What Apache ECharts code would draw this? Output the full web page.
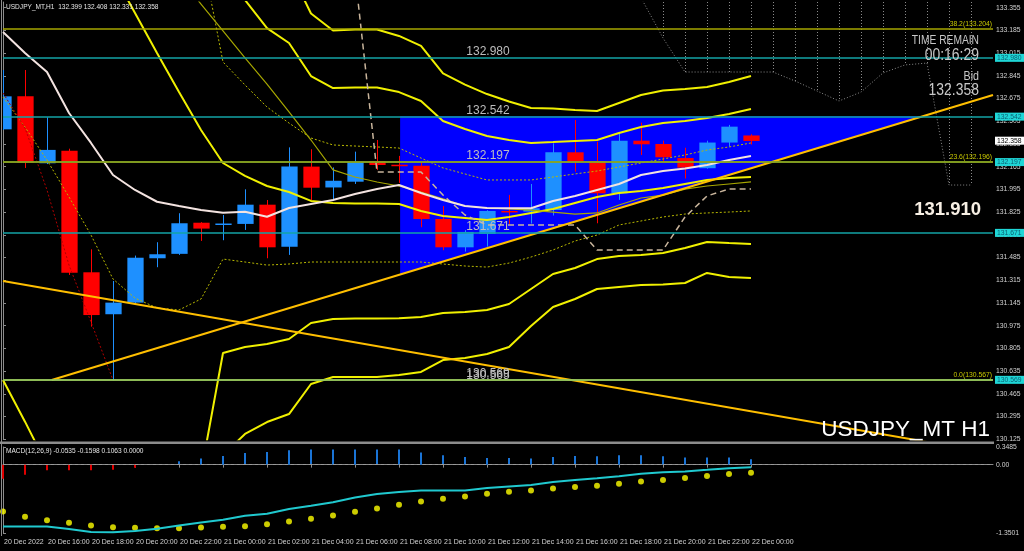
<!DOCTYPE html>
<html><head><meta charset="utf-8">
<script src="https://cdn.jsdelivr.net/npm/echarts@6/dist/echarts.min.js"></script>
<style>html,body{margin:0;padding:0;background:#000;}#c{width:1024px;height:551px;}</style>
</head><body><div id="c"></div>
<script>
// ---------- data ----------
const tickLabels = ['20 Dec 2022','20 Dec 16:00','20 Dec 18:00','20 Dec 20:00','20 Dec 22:00','21 Dec 00:00','21 Dec 02:00','21 Dec 04:00','21 Dec 06:00','21 Dec 08:00','21 Dec 10:00','21 Dec 12:00','21 Dec 14:00','21 Dec 16:00','21 Dec 18:00','21 Dec 20:00','21 Dec 22:00','22 Dec 00:00'];
const open  = [132.445,132.692,132.191,132.285,131.375,131.061,131.148,131.480,131.513,131.746,131.730,131.737,131.881,131.567,132.166,132.010,132.053,132.208,132.180,132.173,131.774,131.562,131.662,131.834,131.829,131.841,132.273,132.208,131.966,132.360,132.335,132.230,132.154,132.346,132.399];
const high  = [132.889,132.889,132.535,132.300,131.547,131.310,131.500,131.600,131.817,131.750,131.804,131.996,131.916,132.310,132.296,132.160,132.278,132.365,132.246,132.200,131.871,131.690,131.840,131.954,132.036,132.340,132.515,132.353,132.415,132.495,132.360,132.307,132.360,132.478,132.408];
const low   = [132.440,132.156,132.185,131.355,130.968,130.567,131.140,131.413,131.505,131.610,131.615,131.692,131.480,131.505,131.916,131.920,132.036,132.140,132.044,131.712,131.540,131.530,131.567,131.737,131.740,131.800,132.128,131.742,131.917,132.253,132.203,132.077,132.150,132.315,132.331];
const close = [132.692,132.195,132.291,131.372,131.055,131.148,131.484,131.510,131.742,131.702,131.740,131.881,131.562,132.166,132.008,132.060,132.200,132.178,132.170,131.774,131.562,131.677,131.834,131.825,131.854,132.273,132.203,131.966,132.360,132.333,132.236,132.158,132.346,132.465,132.358];

const maWhite = [133.174,133.016,132.874,132.567,132.343,132.103,131.991,131.903,131.871,131.841,131.821,131.828,131.791,131.856,131.886,131.916,131.961,131.998,132.028,131.968,131.916,131.871,131.856,131.854,131.854,131.909,131.946,131.991,132.036,132.103,132.133,132.152,132.178,132.215,132.245];
const maOlive = [null,null,null,null,null,null,null,null,133.585,133.383,133.181,132.979,132.784,132.575,132.365,132.141,132.088,132.051,132.021,131.976,131.924,131.871,131.856,131.849,131.841,131.826,131.811,131.819,131.879,131.931,131.953,131.998,132.021,132.036,132.051];
const bandUp3 = [null,null,null,null,null,null,null,null,null,null,null,null,null,133.649,133.312,133.185,133.192,133.192,133.144,133.069,132.863,132.780,132.709,132.653,132.605,132.601,132.590,132.582,132.642,132.702,132.736,132.747,132.762,132.799,132.844];
const bandUp2 = [null,null,null,null,null,null,null,null,null,null,133.623,133.413,133.203,133.091,132.844,132.754,132.758,132.758,132.724,132.657,132.507,132.447,132.395,132.365,132.343,132.350,132.358,132.365,132.418,132.462,132.492,132.507,132.530,132.560,132.597];
const bandUp1 = [null,null,null,null,null,null,null,null,null,133.795,132.949,132.777,132.612,132.492,132.380,132.328,132.320,132.313,132.305,132.230,132.156,132.111,132.066,132.066,132.066,132.088,132.111,132.133,132.163,132.193,132.223,132.253,132.290,132.313,132.343];
const bandMid = [null,null,null,null,null,133.615,133.316,133.016,132.724,132.440,132.193,132.096,132.021,131.976,131.909,131.894,131.890,131.890,131.886,131.834,131.796,131.781,131.766,131.789,131.819,131.849,131.894,131.939,131.968,131.983,132.006,132.036,132.066,132.081,132.088];
const bandDn1 = [132.687,132.462,132.215,131.939,131.654,131.325,131.182,131.108,131.093,131.175,131.474,131.452,131.429,131.437,131.452,131.452,131.452,131.452,131.452,131.452,131.437,131.422,131.414,131.444,131.489,131.542,131.609,131.654,131.729,131.759,131.789,131.811,131.819,131.826,131.834];
const bandDn2 = [130.569,130.257,129.932,null,null,null,null,null,null,129.873,130.771,130.816,130.838,130.876,130.995,131.025,131.029,131.029,131.031,131.040,131.070,131.078,131.093,131.138,131.250,131.362,131.407,131.474,131.497,131.504,131.519,131.557,131.602,131.594,131.587];
const bandDn3 = [null,null,null,null,null,null,null,null,null,null,130.007,130.165,130.254,130.314,130.539,130.591,130.591,130.591,130.606,130.629,130.718,130.733,130.763,130.816,130.973,131.115,131.175,131.250,131.265,131.280,131.284,131.295,131.370,131.340,131.332];
const kijun   = [null,null,null,null,null,null,null,null,null,null,null,null,null,null,null,null,133.608,132.126,132.126,132.126,131.953,131.804,131.729,131.729,131.729,131.729,131.729,131.542,131.542,131.542,131.542,131.789,131.946,131.998,131.998];
const redDots = [132.717,132.455,131.991,131.429,131.003,130.569];
const cloudBars = [29,30,31,32,33,34,35,36,37,38,39,40,41,42,43,44];
const cloudSpan = [133.430,133.129,132.874,132.874,132.874,132.874,132.874,132.807,132.732,132.657,132.724,132.867,132.927,132.941,132.028,132.028];

const trendUp   = [[2.214,130.569],[45,132.702]];
const trendDown = [[0,131.310],[45,130.019]];
const triangle  = [[18.05,132.542],[18.05,131.359],[41.9,132.542]];

const hLevels   = [132.980,132.542,132.197,131.671,130.569];
const fibLevels = [133.204,132.196,130.567];
const fibTexts  = ['38.2(133.204)','23.6(132.196)','0.0(130.567)'];
const bidPrice  = 132.358;

const macdHist   = [-0.277,-0.198,-0.113,-0.113,-0.113,-0.099,-0.059,0.000,0.066,0.119,0.172,0.231,0.251,0.284,0.297,0.297,0.297,0.297,0.297,0.238,0.185,0.152,0.132,0.132,0.119,0.152,0.172,0.165,0.185,0.185,0.165,0.139,0.139,0.139,0.1063];
const macdMain   = [-1.222,-1.222,-1.222,-1.271,-1.331,-1.335,-1.311,-1.267,-1.202,-1.143,-1.089,-1.010,-0.970,-0.875,-0.812,-0.741,-0.648,-0.582,-0.539,-0.509,-0.509,-0.509,-0.463,-0.430,-0.400,-0.345,-0.301,-0.267,-0.228,-0.182,-0.152,-0.133,-0.103,-0.069,-0.0535];
const macdSignal = [-0.925,-1.030,-1.097,-1.149,-1.202,-1.236,-1.248,-1.255,-1.255,-1.242,-1.228,-1.216,-1.176,-1.123,-1.069,-1.004,-0.931,-0.865,-0.792,-0.727,-0.673,-0.628,-0.574,-0.535,-0.509,-0.469,-0.444,-0.416,-0.376,-0.331,-0.305,-0.265,-0.226,-0.186,-0.1598];

// ---------- styling ----------
const SANS = '"Liberation Sans",Arial,sans-serif';
const BULL = '#1e90ff', BEAR = '#ff0000';
const CYAN = '#13a3a6', AXIS = '#8c8c8c', LBL = '#d2d2d2';
const YEL = '#f0f000', OLIVE = '#a6a600';
const CLEAR = 'rgba(0,0,0,0)';

const chart = echarts.init(document.getElementById('c'), null, {width:1024, height:551});
const pairs = arr => arr.map((v, i) => [i, v == null ? '-' : v]);
const tickPos = tickLabels.map((_, k) => 2 * k);

function ln(arr, color, width, type, z) {
  return {type:'line', xAxisIndex:0, yAxisIndex:0, data:pairs(arr), symbol:'none', showSymbol:false,
    connectNulls:false, clip:true, z:z || 3, silent:true, animation:false,
    lineStyle:{color:color, width:width, type:type || 'solid'}};
}

const candleData = close.map((c, i) => [i, open[i], c, low[i], high[i]]);

const hLineMarks = [];
hLevels.forEach(L => {
  hLineMarks.push({yAxis:L, lineStyle:{color:CYAN, width:1.5, type:'solid'},
    label:{show:true, position:'end', formatter:L.toFixed(3), backgroundColor:'#1fd6d6', color:'#0a5f72',
      fontSize:6.8, fontFamily:SANS, padding:[1,3,0,2], distance:2}});
  hLineMarks.push({yAxis:L, lineStyle:{color:CLEAR, width:0},
    label:{show:true, position:'insideMiddleTop', formatter:L.toFixed(3), color:'#bdbdbd',
      fontSize:12, fontFamily:SANS, distance:0, offset:[-10,0]}});
});
hLineMarks.push({yAxis:130.565, lineStyle:{color:CLEAR, width:0},
  label:{show:true, position:'insideMiddleTop', formatter:'130.565', color:'#bdbdbd',
    fontSize:12, fontFamily:SANS, distance:0, offset:[-10,1]}});
fibLevels.forEach((L, k) => {
  hLineMarks.push({yAxis:L, lineStyle:{color: k === 2 ? '#b9d24a' : OLIVE, width:1.5, type:'solid'},
    label:{show:true, position:'insideEndTop', formatter:fibTexts[k], color:'#c8c800',
      fontSize:6.8, fontFamily:SANS, distance:1}});
});
hLineMarks.push({yAxis:bidPrice, lineStyle:{color:CLEAR, width:0},
  label:{show:true, position:'end', formatter:bidPrice.toFixed(3), backgroundColor:'#ffffff', color:'#000000',
    fontSize:6.8, fontFamily:SANS, padding:[1,3,0,2], distance:2}});

const T = (x, y, text, size, fill, align, sx, weight) => ({type:'text', x:x, y:y, z:100, silent:true,
  scaleX: sx || 1, originX:0, originY:0,
  style:{text:text, font:(weight || 'normal') + ' ' + size + 'px ' + SANS, fill:fill, align:align || 'left', verticalAlign:'middle'}});

const option = {
  backgroundColor:'#000000',
  animation:false,
  grid:[
    {left:3, top:2, width:990, height:437.3},
    {left:3, top:447, width:990, height:86}
  ],
  xAxis:[
    {gridIndex:0, type:'value', min:0, max:45, show:false},
    {gridIndex:1, type:'value', min:0, max:45, interval:2, offset:3,
      axisLine:{show:true, lineStyle:{color:AXIS}},
      axisTick:{show:true, length:3, lineStyle:{color:AXIS}, customValues:tickPos},
      splitLine:{show:false},
      axisLabel:{show:true, color:LBL, fontSize:7, fontFamily:SANS, align:'left', margin:3, padding:[0,0,0,1],
        showMinLabel:true, showMaxLabel:true, customValues:tickPos,
        formatter:v => (v % 2 === 0 && tickLabels[v / 2]) || ''}}
  ],
  yAxis:[
    {gridIndex:0, type:'value', position:'right', min:130.125, max:133.398, interval:0.17,
      axisLine:{show:true, lineStyle:{color:AXIS}}, axisTick:{show:true, length:3, lineStyle:{color:AXIS}},
      splitLine:{show:false},
      axisLabel:{color:LBL, fontSize:6.8, fontFamily:SANS, margin:3, showMaxLabel:false, formatter:v => v.toFixed(3)}},
    {gridIndex:1, type:'value', position:'right', min:-1.3501, max:0.3485, interval:1.3501,
      axisLine:{show:true, lineStyle:{color:AXIS}}, axisTick:{show:true, length:3, lineStyle:{color:AXIS}},
      splitLine:{show:false},
      axisLabel:{color:LBL, fontSize:6.8, fontFamily:SANS, margin:3,
        formatter:v => Math.abs(v) < 1e-9 ? '0.00' : v.toFixed(4)}}
  ],
  series:[
    // blue triangle object
    {type:'custom', xAxisIndex:0, yAxisIndex:0, z:1, silent:true, data:[triangle[0]],
      renderItem:(params, api) => ({type:'polygon', shape:{points:triangle.map(p => api.coord(p))}, style:{fill:'#0000ff'}})},
    // dotted cloud hatching
    {type:'custom', xAxisIndex:0, yAxisIndex:0, z:1, silent:true,
      data:cloudBars.map((b, k) => [b, cloudSpan[k]]),
      renderItem:(params, api) => {
        const p = api.coord([api.value(0), api.value(1)]);
        const top = params.coordSys.y;
        if (p[1] <= top + 1) return null;
        const x = Math.round(p[0]) + 0.5;
        return {type:'line', shape:{x1:x, y1:top, x2:x, y2:p[1]}, style:{stroke:'#8a8a8a', lineWidth:1, lineDash:[1,2]}};
      }},
    {type:'line', xAxisIndex:0, yAxisIndex:0, z:1, silent:true, symbol:'none', clip:true,
      data:cloudBars.map((b, k) => [b, cloudSpan[k]]), lineStyle:{color:'#8a8a8a', width:1, type:[1,2]}},
    // candles
    {type:'custom', xAxisIndex:0, yAxisIndex:0, z:2, silent:true, data:candleData, encode:{x:0, y:[1,2,3,4]},
      renderItem:(params, api) => {
        const i = api.value(0), o = api.value(1), c = api.value(2), l = api.value(3), h = api.value(4);
        const pO = api.coord([i, o]), pC = api.coord([i, c]), pL = api.coord([i, l]), pH = api.coord([i, h]);
        const cs = params.coordSys;
        const w = api.size([1, 0])[0] * 0.74;
        const col = c >= o ? BULL : BEAR;
        const x = Math.round(pO[0]) + 0.5;
        let x0 = x - w / 2, x1 = x + w / 2;
        x0 = Math.max(x0, cs.x); x1 = Math.min(x1, cs.x + cs.width);
        const top = Math.min(pO[1], pC[1]);
        const hgt = Math.max(1.5, Math.abs(pO[1] - pC[1]));
        return {type:'group', children:[
          {type:'line', shape:{x1:x, y1:pH[1], x2:x, y2:pL[1]}, style:{stroke:col, lineWidth:1}},
          {type:'rect', shape:{x:x0, y:top, width:x1 - x0, height:hgt}, style:{fill:col}}
        ]};
      }},
    // indicators
    ln(bandUp3, YEL, 2), ln(bandUp2, YEL, 2), ln(bandMid, YEL, 2),
    ln(bandDn2, YEL, 2), ln(bandDn3, YEL, 2),
    ln(bandUp1, '#b8b800', 1, [2,2]), ln(bandDn1, '#b8b800', 1, [2,2]),
    ln(maOlive, OLIVE, 1.2),
    ln(kijun, '#c9b59c', 1.5, [6,4]),
    ln(redDots, '#b00000', 1, [2,2]),
    ln(maWhite, '#f3e3e0', 2),
    // trend lines + horizontal objects
    {type:'line', xAxisIndex:0, yAxisIndex:0, z:4, silent:true, symbol:'none', clip:true, data:trendUp,
      lineStyle:{color:'#ffbf00', width:2}},
    {type:'line', xAxisIndex:0, yAxisIndex:0, z:4, silent:true, symbol:'none', clip:true, data:trendDown,
      lineStyle:{color:'#ffbf00', width:2},
      markLine:{silent:true, animation:false, symbol:['none','none'], data:hLineMarks}},
    // MACD
    {type:'bar', xAxisIndex:1, yAxisIndex:1, barWidth:2, silent:true,
      data:macdHist.map((v, i) => ({value:[i, v], itemStyle:{color: v >= 0 ? '#1a74d6' : '#e00000'}})),
      markLine:{silent:true, animation:false, symbol:['none','none'], label:{show:false},
        data:[{yAxis:0}], lineStyle:{color:'#9a9a9a', width:1, type:[3,3]}}},
    {type:'line', xAxisIndex:1, yAxisIndex:1, symbol:'none', silent:true, data:pairs(macdMain),
      lineStyle:{color:'#20c9cf', width:2}},
    {type:'scatter', xAxisIndex:1, yAxisIndex:1, symbolSize:6, silent:true, data:pairs(macdSignal),
      itemStyle:{color:'#ffff00'}}
  ],
  graphic:[
    {type:'line', silent:true, z:90, shape:{x1:1.5, y1:0, x2:1.5, y2:536}, style:{stroke:AXIS, lineWidth:1}},
    {type:'rect', silent:true, z:90, shape:{x:0, y:441.5, width:994, height:2.5}, style:{fill:AXIS}},
    T(6, 6.5, 'USDJPY_MT,H1  132.399 132.408 132.331 132.358', 8, '#e6e6e6', 'left', 0.82),
    T(6, 450.5, 'MACD(12,26,9) -0.0535 -0.1598 0.1063 0.0000', 8, '#e6e6e6', 'left', 0.82),
    T(979, 41, 'TIME REMAIN', 12.5, '#c8c8c8', 'right', 0.82),
    T(979, 55, '00:16:29', 17, '#c8c8c8', 'right', 0.82),
    T(979, 76, 'Bid', 13, '#c8c8c8', 'right', 0.82),
    T(979, 90, '132.358', 17, '#c8c8c8', 'right', 0.82),
    T(981, 210, '131.910', 18.5, '#f7efe4', 'right', 1, 'bold'),
    T(990, 430, 'USDJPY_MT H1', 22.5, '#ffffff', 'right', 1)
  ]
};
chart.setOption(option);
</script>
</body></html>
